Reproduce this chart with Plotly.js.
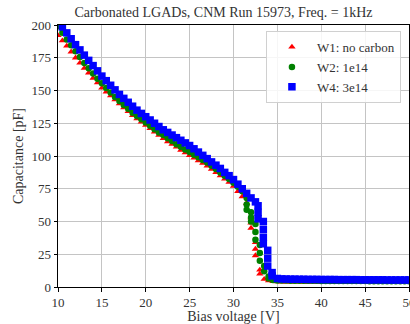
<!DOCTYPE html>
<html>
<head>
<meta charset="utf-8">
<script src="https://cdn.plot.ly/plotly-3.0.1.min.js"></script>
<style>html,body{margin:0;padding:0;background:#fff;}#chart{width:410px;height:324px;}</style>
</head>
<body>
<div id="chart"></div>
<script>
// W1: no carbon
const V_W1 = [10,10.5,11,11.5,12,12.5,13,13.5,14,14.5,15,15.5,16,16.5,17,17.5,18,18.5,19,19.5,20,20.5,21,21.5,22,22.5,23,23.5,24,24.5,25,25.5,26,26.5,27,27.5,28,28.5,29,29.5,30,30.5,31,31.5,
  32,32,32,32.5,32.5,32.5,33,33,33.5,34,34.5,
  35,35.5,36,36.5,37,37.5,38,38.5,39,39.5,40,40.5,41,41.5,42,42.5,43,43.5,44,44.5,45,45.5,46,46.5,47,47.5,48,48.5,49,49.5,50];
const C_W1 = [192,188,184,179.5,175,171,167,163.5,159.5,156,152,149,146,143,140,137,134,131,128.5,126,123.5,121,118.5,116,113.5,111,109,107,104.5,102.5,100.5,98.5,96.5,94.5,92.5,90,87.5,85,82.5,80,77,73,69,64,
  53,49,45,34,29,24,13,10,6,4.8,4.3,
  4.1,4.0,4.0,3.9,3.9,3.9,3.8,3.8,3.8,3.8,3.7,3.7,3.7,3.7,3.7,3.7,3.6,3.6,3.6,3.6,3.6,3.6,3.6,3.5,3.5,3.5,3.5,3.5,3.5,3.5,3.5];

// W2: 1e14
const V_W2 = [10,10.5,11,11.5,12,12.5,13,13.5,14,14.5,15,15.5,16,16.5,17,17.5,18,18.5,19,19.5,20,20.5,21,21.5,22,22.5,23,23.5,24,24.5,25,25.5,26,26.5,27,27.5,28,28.5,29,29.5,30,30.5,31,
  31.5,31.5,31.5,32,32,32,32.5,32.5,32.5,33,33,33,33.5,33.5,34,34,34.5,
  35,35.5,36,36.5,37,37.5,38,38.5,39,39.5,40,40.5,41,41.5,42,42.5,43,43.5,44,44.5,45,45.5,46,46.5,47,47.5,48,48.5,49,49.5,50];
const C_W2 = [199,194,189,184.5,180,175.5,171,167,163,159,155.5,152,148.5,145,142,139,136,133,130.5,128,125.5,123,120.5,118,116,113.5,111.5,109,107,105,103,101,99,97,95,92.5,90,87.5,85,82.5,79.5,76.5,73,
  68,63,59,57,53,50,48,42,36,32,26,20,16,12,8,6.5,5.3,
  5.0,4.9,4.9,4.8,4.8,4.8,4.7,4.7,4.7,4.7,4.6,4.6,4.6,4.6,4.6,4.5,4.5,4.5,4.5,4.5,4.5,4.4,4.4,4.4,4.4,4.4,4.4,4.3,4.3,4.3,4.3];

// W4: 3e14
const V_W4 = [10,10.5,11,11.5,12,12.5,13,13.5,14,14.5,15,15.5,16,16.5,17,17.5,18,18.5,19,19.5,20,20.5,21,21.5,22,22.5,23,23.5,24,24.5,25,25.5,26,26.5,27,27.5,28,28.5,29,29.5,30,30.5,31,31.5,32,32.5,
  32.8,32.8,32.8,33.4,33.4,33.4,33.4,33.9,33.9,33.9,34.4,34.4,
  35,35.5,36,36.5,37,37.5,38,38.5,39,39.5,40,40.5,41,41.5,42,42.5,43,43.5,44,44.5,45,45.5,46,46.5,47,47.5,48,48.5,49,49.5,50];
const C_W4 = [203,198.5,194,189.5,185,181,177,173,169,165,161,157.5,154,150.5,147,144,141,138,135,132.5,130,127.5,125,122.5,120,118,116,114,112,110,108,105.5,103,100.5,98,95.5,93,90.5,87.5,85,82,78.5,75,71.5,68,65,
  62,57,52,50,44,38,33,28,22,16,11,8.5,
  6.5,6.2,6.1,6.0,6.0,5.9,5.9,5.8,5.8,5.8,5.7,5.7,5.7,5.7,5.6,5.6,5.6,5.6,5.6,5.5,5.5,5.5,5.5,5.5,5.5,5.4,5.4,5.4,5.4,5.4,5.4];

const NAMES = ["W1: no carbon", "W2: 1e14", "W4: 3e14"];
const COLORS = ["red", "green", "blue"];
const SYMBOLS = ["triangle-up", "circle", "square"];
const SIZES = [6.5, 6.5, 7.5];
const X_TICKS = [10,15,20,25,30,35,40,45,50];

const FONT = "'Liberation Serif', 'Times New Roman', Times, serif";
const TXT = "#333";
const traces = [[V_W1, C_W1], [V_W2, C_W2], [V_W4, C_W4]].map((d, i) => ({
  x: d[0], y: d[1], type: "scatter", mode: "markers", name: NAMES[i],
  marker: {color: COLORS[i], symbol: SYMBOLS[i], size: SIZES[i], line: {width: 0}}
}));

const layout = {
  width: 410, height: 324,
  margin: {l: 58, r: 1, t: 25, b: 37},
  paper_bgcolor: "#fff", plot_bgcolor: "#fff",
  font: {family: FONT, size: 12, color: TXT},
  title: {text: "Carbonated LGADs, CNM Run 15973, Freq. = 1kHz", font: {family: FONT, size: 14, color: TXT},
          x: 223.5/410, xref: "container", xanchor: "center", y: 1 - 12/324, yref: "container", yanchor: "middle"},
  xaxis: {range: [10, 50], tickvals: X_TICKS, ticktext: X_TICKS.map(String),
          ticklabeloverflow: "allow", showgrid: true, gridcolor: "#c4c4c4", gridwidth: 1,
          showline: true, linecolor: "#000", linewidth: 1, mirror: true, ticks: "outside", ticklen: 3.5, tickcolor: "#000",
          zeroline: false, automargin: false, tickfont: {family: FONT, size: 13, color: TXT},
          title: {text: "Bias voltage [V]", font: {family: FONT, size: 14, color: TXT}, standoff: 4}},
  yaxis: {range: [0, 200], dtick: 25, tick0: 0, showgrid: true, gridcolor: "#c4c4c4", gridwidth: 1,
          showline: true, linecolor: "#000", linewidth: 1, mirror: true, ticks: "outside", ticklen: 3.5, tickcolor: "#000",
          zeroline: false, automargin: false, tickfont: {family: FONT, size: 13, color: TXT},
          title: {text: "Capacitance [pF]", font: {family: FONT, size: 14, color: TXT}, standoff: 4}},
  legend: {x: 0.977, y: 0.977, xanchor: "right", yanchor: "top", bgcolor: "rgba(255,255,255,0.85)",
           bordercolor: "#d0d0d0", borderwidth: 1, font: {family: FONT, size: 13, color: TXT},
           tracegroupgap: 0, itemwidth: 40},
  showlegend: true
};

Plotly.newPlot("chart", traces, layout, {staticPlot: true, displayModeBar: false});
</script>
</body>
</html>
